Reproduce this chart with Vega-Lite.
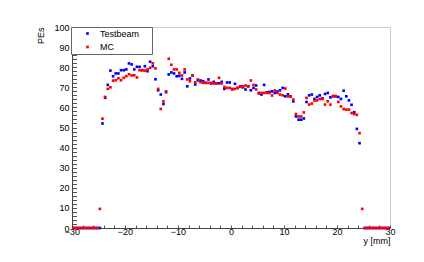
{
  "$schema": "https://vega.github.io/schema/vega-lite/v6.json",
  "width": 318,
  "height": 201,
  "autosize": {"type": "none"},
  "padding": {"left": 72, "top": 27, "right": 34, "bottom": 34},
  "background": "white",
  "config": {
    "view": {"stroke": "#cccccc", "strokeWidth": 1},
    "font": "Liberation Sans"
  },
  "data": {
    "values": [
      {"pos": -29.75, "pe": 0, "series": "Testbeam"}, {"pos": -29.25, "pe": 0, "series": "Testbeam"}, {"pos": -28.75, "pe": 0, "series": "Testbeam"}, {"pos": -28.25, "pe": 0, "series": "Testbeam"}, {"pos": -27.75, "pe": 0, "series": "Testbeam"}, {"pos": -27.25, "pe": 0, "series": "Testbeam"}, {"pos": -26.75, "pe": 0, "series": "Testbeam"}, {"pos": -26.25, "pe": 0, "series": "Testbeam"}, {"pos": -25.75, "pe": 0, "series": "Testbeam"}, {"pos": -25.25, "pe": 0, "series": "Testbeam"}, {"pos": -24.75, "pe": 0, "series": "Testbeam"},
      {"pos": -24.25, "pe": 52, "series": "Testbeam"}, {"pos": -23.75, "pe": 64.8, "series": "Testbeam"}, {"pos": -23.25, "pe": 71.2, "series": "Testbeam"}, {"pos": -22.75, "pe": 78.3, "series": "Testbeam"}, {"pos": -22.25, "pe": 75.5, "series": "Testbeam"}, {"pos": -21.75, "pe": 76.9, "series": "Testbeam"}, {"pos": -21.25, "pe": 76.9, "series": "Testbeam"}, {"pos": -20.75, "pe": 78.5, "series": "Testbeam"}, {"pos": -20.25, "pe": 78.5, "series": "Testbeam"}, {"pos": -19.75, "pe": 78.9, "series": "Testbeam"}, {"pos": -19.25, "pe": 81.9, "series": "Testbeam"}, {"pos": -18.75, "pe": 81.4, "series": "Testbeam"}, {"pos": -18.25, "pe": 78.9, "series": "Testbeam"}, {"pos": -17.75, "pe": 80.2, "series": "Testbeam"}, {"pos": -17.25, "pe": 80.2, "series": "Testbeam"}, {"pos": -16.75, "pe": 78.5, "series": "Testbeam"}, {"pos": -16.25, "pe": 80.5, "series": "Testbeam"}, {"pos": -15.75, "pe": 78, "series": "Testbeam"}, {"pos": -15.25, "pe": 82.7, "series": "Testbeam"}, {"pos": -14.75, "pe": 80.5, "series": "Testbeam"}, {"pos": -14.25, "pe": 74, "series": "Testbeam"}, {"pos": -13.75, "pe": 68.5, "series": "Testbeam"}, {"pos": -13.25, "pe": 66.4, "series": "Testbeam"}, {"pos": -12.75, "pe": 61.7, "series": "Testbeam"}, {"pos": -12.25, "pe": 67.9, "series": "Testbeam"}, {"pos": -11.75, "pe": 76.4, "series": "Testbeam"}, {"pos": -11.25, "pe": 77.4, "series": "Testbeam"}, {"pos": -10.75, "pe": 76.9, "series": "Testbeam"}, {"pos": -10.25, "pe": 75.5, "series": "Testbeam"}, {"pos": -9.75, "pe": 75.7, "series": "Testbeam"}, {"pos": -9.25, "pe": 74.2, "series": "Testbeam"}, {"pos": -8.75, "pe": 77.4, "series": "Testbeam"}, {"pos": -8.25, "pe": 70.5, "series": "Testbeam"}, {"pos": -7.75, "pe": 74.4, "series": "Testbeam"}, {"pos": -7.25, "pe": 75.9, "series": "Testbeam"}, {"pos": -6.75, "pe": 71.4, "series": "Testbeam"}, {"pos": -6.25, "pe": 73.4, "series": "Testbeam"}, {"pos": -5.75, "pe": 73.4, "series": "Testbeam"}, {"pos": -5.25, "pe": 73, "series": "Testbeam"}, {"pos": -4.75, "pe": 72.2, "series": "Testbeam"}, {"pos": -4.25, "pe": 73.9, "series": "Testbeam"}, {"pos": -3.75, "pe": 71.9, "series": "Testbeam"},
      {"pos": -3.25, "pe": 72.7, "series": "Testbeam"}, {"pos": -2.75, "pe": 72, "series": "Testbeam"}, {"pos": -2.25, "pe": 72, "series": "Testbeam"}, {"pos": -1.75, "pe": 72.7, "series": "Testbeam"}, {"pos": -1.25, "pe": 69.2, "series": "Testbeam"}, {"pos": -0.75, "pe": 72.4, "series": "Testbeam"}, {"pos": -0.25, "pe": 72.4, "series": "Testbeam"}, {"pos": 0.25, "pe": 69.2, "series": "Testbeam"}, {"pos": 0.75, "pe": 71.7, "series": "Testbeam"}, {"pos": 1.25, "pe": 69.7, "series": "Testbeam"}, {"pos": 1.75, "pe": 70.5, "series": "Testbeam"}, {"pos": 2.25, "pe": 70, "series": "Testbeam"}, {"pos": 2.75, "pe": 68.9, "series": "Testbeam"}, {"pos": 3.25, "pe": 70.5, "series": "Testbeam"}, {"pos": 3.75, "pe": 68.5, "series": "Testbeam"}, {"pos": 4.25, "pe": 69.7, "series": "Testbeam"}, {"pos": 4.75, "pe": 70.9, "series": "Testbeam"}, {"pos": 5.25, "pe": 67.2, "series": "Testbeam"}, {"pos": 5.75, "pe": 66.4, "series": "Testbeam"}, {"pos": 6.25, "pe": 71.2, "series": "Testbeam"}, {"pos": 6.75, "pe": 67.5, "series": "Testbeam"}, {"pos": 7.25, "pe": 67.7, "series": "Testbeam"}, {"pos": 7.75, "pe": 68, "series": "Testbeam"}, {"pos": 8.25, "pe": 67.2, "series": "Testbeam"}, {"pos": 8.75, "pe": 67.9, "series": "Testbeam"}, {"pos": 9.25, "pe": 68.5, "series": "Testbeam"}, {"pos": 9.75, "pe": 69.7, "series": "Testbeam"}, {"pos": 10.25, "pe": 65.5, "series": "Testbeam"}, {"pos": 10.75, "pe": 66.5, "series": "Testbeam"}, {"pos": 11.25, "pe": 65.5, "series": "Testbeam"}, {"pos": 11.75, "pe": 63, "series": "Testbeam"}, {"pos": 12.25, "pe": 55.5, "series": "Testbeam"}, {"pos": 12.75, "pe": 53.9, "series": "Testbeam"}, {"pos": 13.25, "pe": 53.9, "series": "Testbeam"}, {"pos": 13.75, "pe": 54.5, "series": "Testbeam"}, {"pos": 14.25, "pe": 62.7, "series": "Testbeam"}, {"pos": 14.75, "pe": 66, "series": "Testbeam"}, {"pos": 15.25, "pe": 66.4, "series": "Testbeam"}, {"pos": 15.75, "pe": 64.2, "series": "Testbeam"}, {"pos": 16.25, "pe": 65.2, "series": "Testbeam"}, {"pos": 16.75, "pe": 66, "series": "Testbeam"}, {"pos": 17.25, "pe": 64.5, "series": "Testbeam"}, {"pos": 17.75, "pe": 66.7, "series": "Testbeam"}, {"pos": 18.25, "pe": 67.2, "series": "Testbeam"}, {"pos": 18.75, "pe": 65, "series": "Testbeam"}, {"pos": 19.25, "pe": 65.5, "series": "Testbeam"}, {"pos": 19.75, "pe": 65.5, "series": "Testbeam"}, {"pos": 20.25, "pe": 65.2, "series": "Testbeam"}, {"pos": 20.75, "pe": 64.2, "series": "Testbeam"}, {"pos": 21.25, "pe": 68.3, "series": "Testbeam"}, {"pos": 21.75, "pe": 65.5, "series": "Testbeam"}, {"pos": 22.25, "pe": 63.5, "series": "Testbeam"}, {"pos": 22.75, "pe": 61.3, "series": "Testbeam"}, {"pos": 23.25, "pe": 57.6, "series": "Testbeam"}, {"pos": 23.75, "pe": 49.3, "series": "Testbeam"}, {"pos": 24.25, "pe": 42.2, "series": "Testbeam"},
      {"pos": 25.25, "pe": 0, "series": "Testbeam"}, {"pos": 25.75, "pe": 0, "series": "Testbeam"}, {"pos": 26.25, "pe": 0, "series": "Testbeam"}, {"pos": 26.75, "pe": 0, "series": "Testbeam"}, {"pos": 27.25, "pe": 0, "series": "Testbeam"}, {"pos": 27.75, "pe": 0, "series": "Testbeam"}, {"pos": 28.25, "pe": 0, "series": "Testbeam"}, {"pos": 28.75, "pe": 0, "series": "Testbeam"}, {"pos": 29.25, "pe": 0, "series": "Testbeam"}, {"pos": 29.75, "pe": 0, "series": "Testbeam"},
      {"pos": -29.75, "pe": 0, "series": "MC"}, {"pos": -29.25, "pe": 0, "series": "MC"}, {"pos": -28.75, "pe": 0, "series": "MC"}, {"pos": -28.25, "pe": 0, "series": "MC"}, {"pos": -27.75, "pe": 0, "series": "MC"}, {"pos": -27.25, "pe": 0, "series": "MC"}, {"pos": -26.75, "pe": 0, "series": "MC"}, {"pos": -26.25, "pe": 0, "series": "MC"}, {"pos": -25.75, "pe": 0, "series": "MC"}, {"pos": -25.25, "pe": 0, "series": "MC"}, {"pos": -24.75, "pe": 9.5, "series": "MC"},
      {"pos": -24.25, "pe": 54.4, "series": "MC"}, {"pos": -23.75, "pe": 65.2, "series": "MC"}, {"pos": -23.25, "pe": 69.2, "series": "MC"}, {"pos": -22.75, "pe": 70, "series": "MC"}, {"pos": -22.25, "pe": 73.3, "series": "MC"}, {"pos": -21.75, "pe": 73.5, "series": "MC"}, {"pos": -21.25, "pe": 74.5, "series": "MC"}, {"pos": -20.75, "pe": 73.5, "series": "MC"}, {"pos": -20.25, "pe": 74.7, "series": "MC"}, {"pos": -19.75, "pe": 75.5, "series": "MC"}, {"pos": -19.25, "pe": 76.5, "series": "MC"}, {"pos": -18.75, "pe": 75.9, "series": "MC"}, {"pos": -18.25, "pe": 76, "series": "MC"}, {"pos": -17.75, "pe": 74.9, "series": "MC"}, {"pos": -17.25, "pe": 78.5, "series": "MC"}, {"pos": -16.75, "pe": 78.5, "series": "MC"}, {"pos": -16.25, "pe": 78.3, "series": "MC"}, {"pos": -15.75, "pe": 78.9, "series": "MC"}, {"pos": -15.25, "pe": 79.7, "series": "MC"}, {"pos": -14.75, "pe": 81.9, "series": "MC"}, {"pos": -14.25, "pe": 79.4, "series": "MC"}, {"pos": -13.75, "pe": 69.2, "series": "MC"}, {"pos": -13.25, "pe": 59.2, "series": "MC"}, {"pos": -12.75, "pe": 63, "series": "MC"}, {"pos": -12.25, "pe": 67.5, "series": "MC"}, {"pos": -11.75, "pe": 84.2, "series": "MC"}, {"pos": -11.25, "pe": 81.2, "series": "MC"}, {"pos": -10.75, "pe": 78.9, "series": "MC"}, {"pos": -10.25, "pe": 78.9, "series": "MC"}, {"pos": -9.75, "pe": 77.2, "series": "MC"}, {"pos": -9.25, "pe": 75.9, "series": "MC"}, {"pos": -8.75, "pe": 78.9, "series": "MC"}, {"pos": -8.25, "pe": 73.9, "series": "MC"}, {"pos": -7.75, "pe": 73, "series": "MC"}, {"pos": -7.25, "pe": 75.9, "series": "MC"}, {"pos": -6.75, "pe": 72.5, "series": "MC"}, {"pos": -6.25, "pe": 73.9, "series": "MC"}, {"pos": -5.75, "pe": 72.5, "series": "MC"}, {"pos": -5.25, "pe": 72.2, "series": "MC"}, {"pos": -4.75, "pe": 72.2, "series": "MC"}, {"pos": -4.25, "pe": 72.2, "series": "MC"}, {"pos": -3.75, "pe": 72.2, "series": "MC"},
      {"pos": -3.25, "pe": 71.9, "series": "MC"}, {"pos": -2.75, "pe": 71.9, "series": "MC"}, {"pos": -2.25, "pe": 74.7, "series": "MC"}, {"pos": -1.75, "pe": 71.9, "series": "MC"}, {"pos": -1.25, "pe": 70.2, "series": "MC"}, {"pos": -0.75, "pe": 69.7, "series": "MC"}, {"pos": -0.25, "pe": 69.7, "series": "MC"}, {"pos": 0.25, "pe": 68.9, "series": "MC"}, {"pos": 0.75, "pe": 69.2, "series": "MC"}, {"pos": 1.25, "pe": 69.7, "series": "MC"}, {"pos": 1.75, "pe": 70.2, "series": "MC"}, {"pos": 2.25, "pe": 70.5, "series": "MC"}, {"pos": 2.75, "pe": 70.9, "series": "MC"}, {"pos": 3.25, "pe": 70.5, "series": "MC"}, {"pos": 3.75, "pe": 73.4, "series": "MC"}, {"pos": 4.25, "pe": 71.2, "series": "MC"}, {"pos": 4.75, "pe": 68.9, "series": "MC"}, {"pos": 5.25, "pe": 66.9, "series": "MC"}, {"pos": 5.75, "pe": 67.2, "series": "MC"}, {"pos": 6.25, "pe": 67.2, "series": "MC"}, {"pos": 6.75, "pe": 67.2, "series": "MC"}, {"pos": 7.25, "pe": 67.2, "series": "MC"}, {"pos": 7.75, "pe": 65.9, "series": "MC"}, {"pos": 8.25, "pe": 68.4, "series": "MC"}, {"pos": 8.75, "pe": 67.2, "series": "MC"}, {"pos": 9.25, "pe": 66.4, "series": "MC"}, {"pos": 9.75, "pe": 66, "series": "MC"}, {"pos": 10.25, "pe": 69.4, "series": "MC"}, {"pos": 10.75, "pe": 65.5, "series": "MC"}, {"pos": 11.25, "pe": 65.5, "series": "MC"}, {"pos": 11.75, "pe": 63.9, "series": "MC"}, {"pos": 12.25, "pe": 56.7, "series": "MC"}, {"pos": 12.75, "pe": 55.5, "series": "MC"}, {"pos": 13.25, "pe": 55.5, "series": "MC"}, {"pos": 13.75, "pe": 57.5, "series": "MC"}, {"pos": 14.25, "pe": 64.7, "series": "MC"}, {"pos": 14.75, "pe": 61.4, "series": "MC"}, {"pos": 15.25, "pe": 61.9, "series": "MC"}, {"pos": 15.75, "pe": 63.4, "series": "MC"}, {"pos": 16.25, "pe": 63.5, "series": "MC"}, {"pos": 16.75, "pe": 64.2, "series": "MC"}, {"pos": 17.25, "pe": 64.2, "series": "MC"}, {"pos": 17.75, "pe": 61.4, "series": "MC"}, {"pos": 18.25, "pe": 63, "series": "MC"}, {"pos": 18.75, "pe": 61.4, "series": "MC"}, {"pos": 19.25, "pe": 65.7, "series": "MC"}, {"pos": 19.75, "pe": 65.7, "series": "MC"}, {"pos": 20.25, "pe": 62.7, "series": "MC"}, {"pos": 20.75, "pe": 60.5, "series": "MC"}, {"pos": 21.25, "pe": 59.2, "series": "MC"}, {"pos": 21.75, "pe": 58.9, "series": "MC"}, {"pos": 22.25, "pe": 58.9, "series": "MC"}, {"pos": 22.75, "pe": 57.2, "series": "MC"}, {"pos": 23.25, "pe": 56.7, "series": "MC"}, {"pos": 23.75, "pe": 56.3, "series": "MC"}, {"pos": 24.25, "pe": 47.2, "series": "MC"}, {"pos": 24.75, "pe": 9.5, "series": "MC"},
      {"pos": 25.25, "pe": 0, "series": "MC"}, {"pos": 25.75, "pe": 0, "series": "MC"}, {"pos": 26.25, "pe": 0, "series": "MC"}, {"pos": 26.75, "pe": 0, "series": "MC"}, {"pos": 27.25, "pe": 0, "series": "MC"}, {"pos": 27.75, "pe": 0, "series": "MC"}, {"pos": 28.25, "pe": 0, "series": "MC"}, {"pos": 28.75, "pe": 0, "series": "MC"}, {"pos": 29.25, "pe": 0, "series": "MC"}, {"pos": 29.75, "pe": 0, "series": "MC"}
    ]
  },
  "mark": {"type": "point", "shape": "square", "filled": true, "size": 7, "opacity": 1, "strokeWidth": 0},
  "encoding": {
    "x": {
      "field": "pos", "type": "quantitative",
      "scale": {"domain": [-30, 30], "nice": false, "zero": false},
      "axis": {
        "values": [-30, -28, -26, -24, -22, -20, -18, -16, -14, -12, -10, -8, -6, -4, -2, 0, 2, 4, 6, 8, 10, 12, 14, 16, 18, 20, 22, 24, 26, 28, 30],
        "labelExpr": "datum.value % 10 === 0 ? datum.label : ''",
        "labelOverlap": false,
        "labelFlush": false,
        "grid": false,
        "tickSize": -3,
        "labelPadding": 2,
        "labelFontSize": 9,
        "labelFont": "Liberation Sans",
        "labelColor": "#000000",
        "domainColor": "#444444",
        "tickColor": "#555555",
        "title": "y [mm]",
        "titleFont": "Liberation Sans",
        "titleFontSize": 9,
        "titleFontWeight": "normal",
        "titleColor": "#000000",
        "titleX": 318,
        "titleY": 12.5,
        "titleAlign": "right",
        "titleBaseline": "middle",
        "encode": {"ticks": {"update": {"y2": {"signal": "datum.value % 10 === 0 ? -6 : -3"}}}}
      }
    },
    "y": {
      "field": "pe", "type": "quantitative",
      "scale": {"domain": [0, 100], "nice": false},
      "axis": {
        "values": [0, 2, 4, 6, 8, 10, 12, 14, 16, 18, 20, 22, 24, 26, 28, 30, 32, 34, 36, 38, 40, 42, 44, 46, 48, 50, 52, 54, 56, 58, 60, 62, 64, 66, 68, 70, 72, 74, 76, 78, 80, 82, 84, 86, 88, 90, 92, 94, 96, 98, 100],
        "labelExpr": "datum.value % 10 === 0 ? datum.label : ''",
        "labelOverlap": false,
        "labelFlush": false,
        "grid": false,
        "tickSize": -4.5,
        "labelPadding": 7.5,
        "labelFontSize": 9,
        "labelFont": "Liberation Sans",
        "labelColor": "#000000",
        "domainColor": "#444444",
        "tickColor": "#555555",
        "title": "PEs",
        "titleFont": "Liberation Sans",
        "titleFontSize": 9,
        "titleFontWeight": "normal",
        "titleColor": "#000000",
        "titleX": -32,
        "titleY": 0,
        "titleAngle": -90,
        "titleAlign": "right",
        "titleBaseline": "middle",
        "encode": {"ticks": {"update": {"x2": {"signal": "datum.value % 10 === 0 ? 9 : 4.5"}}}}
      }
    },
    "color": {
      "field": "series", "type": "nominal",
      "scale": {"domain": ["Testbeam", "MC"], "range": ["#0000ff", "#ff0000"]},
      "legend": {
        "orient": "none",
        "legendX": -1,
        "legendY": 0,
        "title": "\u00a0",
        "titleOrient": "right",
        "titlePadding": 11,
        "titleFontSize": 2,
        "fillColor": "white",
        "strokeColor": "#666666",
        "padding": 2,
        "rowPadding": 3.5,
        "symbolType": "square",
        "symbolSize": 7,
        "symbolOffset": 10,
        "labelOffset": 8,
        "labelFontSize": 9,
        "labelFont": "Liberation Sans",
        "labelColor": "#000000"
      }
    }
  }
}
